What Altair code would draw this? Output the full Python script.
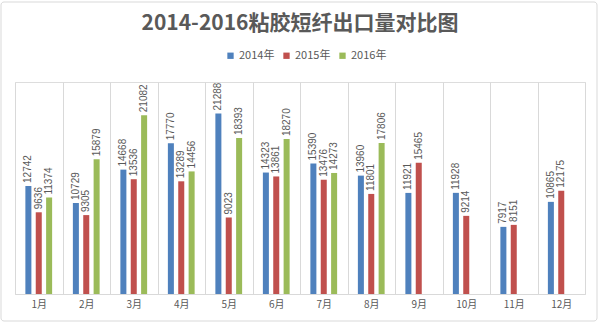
import altair as alt
import pandas as pd

months = ["1月", "2月", "3月", "4月", "5月", "6月", "7月", "8月", "9月", "10月", "11月", "12月"]
years = ["2014年", "2015年", "2016年"]
v2014 = [12742, 10729, 14668, 17770, 21288, 14323, 15390, 13960, 11921, 11928, 7917, 10865]
v2015 = [9636, 9305, 13536, 13289, 9023, 13861, 13476, 11801, 15465, 9214, 8151, 12175]
v2016 = [11374, 15879, 21082, 14456, 18393, 18270, 14273, 17806, None, None, None, None]
colors = ["#4F81BD", "#C0504D", "#9BBB59"]

rows = []
for series, yr in zip([v2014, v2015, v2016], years):
    for m, v in zip(months, series):
        if v is not None:
            rows.append({"month": m, "year": yr, "value": v})
df = pd.DataFrame(rows)

FONT = "Noto Sans CJK SC"
GRAY = "#595959"
LINE = "#d9d9d9"

x = alt.X("month:N", sort=months, title=None,
          scale=alt.Scale(paddingInner=0, paddingOuter=0),
          axis=alt.Axis(labelAngle=0, labelFont=FONT, labelFontSize=10, labelColor=GRAY,
                        labelPadding=5, ticks=False, grid=True, gridColor=LINE,
                        tickBand="extent", domainColor=LINE))
xo = alt.XOffset("year:N", sort=years,
                 scale=alt.Scale(paddingInner=0.42, paddingOuter=1))
y = alt.Y("value:Q", scale=alt.Scale(domain=[0, 25000]), axis=None)

base = alt.Chart(df)

bars = base.mark_bar().encode(
    x=x, xOffset=xo, y=y,
    color=alt.Color("year:N", sort=years,
                    scale=alt.Scale(domain=years, range=colors),
                    legend=alt.Legend(title=None, orient="none", legendX=210, legendY=-32,
                                      direction="horizontal", symbolType="square",
                                      symbolSize=40, symbolStrokeWidth=0,
                                      labelFont=FONT, labelFontSize=11, labelColor=GRAY,
                                      labelOffset=3, columnPadding=6)),
)

labels = base.mark_text(angle=270, align="left", baseline="middle", dx=3,
                        font="Liberation Sans", fontSize=10, color=GRAY).encode(
    x=x, xOffset=xo, y=y, text=alt.Text("value:Q", format="d"),
)

border = alt.Chart(pd.DataFrame({"a": [0]})).mark_rect(
    fill=None, stroke=LINE, strokeWidth=1, cornerRadius=3
).encode(x=alt.value(-14), x2=alt.value(582), y=alt.value(-80), y2=alt.value(239))

chart = alt.layer(border, bars, labels).properties(
    width=570, height=212,
    title=alt.TitleParams("2014-2016粘胶短纤出口量对比图", font=FONT, fontSize=21,
                          fontWeight="bold", color=GRAY, anchor="middle", offset=0, dy=32),
    padding={"left": 15, "top": 82, "right": 15, "bottom": 30},
    autosize=alt.AutoSizeParams(type="none"),
).configure_view(stroke=None).configure(background="white")

chart.save("out.html", embed_options={"renderer": "svg", "actions": False})
